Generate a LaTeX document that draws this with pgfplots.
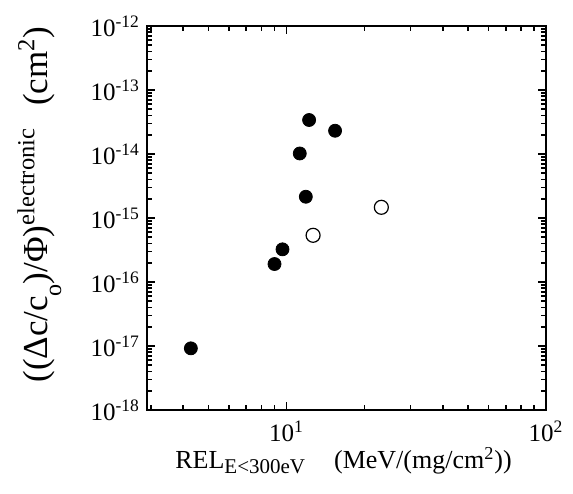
\documentclass[border=0pt]{standalone}
\usepackage{fontspec}
\setmainfont{Liberation Serif}
\usepackage{pgfplots}
\pgfplotsset{compat=1.18}
\begin{document}
\begin{tikzpicture}
\useasboundingbox (-73.5pt,-41.5pt) rectangle (213pt,205pt);
\begin{axis}[
  at={(0,0)}, anchor=south west,
  xmode=log, ymode=log,
  scale only axis, width=199.5pt, height=192pt,
  xmin=2.9, xmax=100, ymin=1e-18, ymax=1e-12,
  xtick={10,100},
  xticklabels={10\textsuperscript{1},10\textsuperscript{2}},
  ytick={1e-18,1e-17,1e-16,1e-15,1e-14,1e-13,1e-12},
  yticklabels={10\textsuperscript{-18},10\textsuperscript{-17},10\textsuperscript{-16},10\textsuperscript{-15},10\textsuperscript{-14},10\textsuperscript{-13},10\textsuperscript{-12}},
  minor xtick={3,4,5,6,7,8,9,20,30,40,50,60,70,80,90},
  minor ytick={2e-18,3e-18,4e-18,5e-18,6e-18,7e-18,8e-18,9e-18,
               2e-17,3e-17,4e-17,5e-17,6e-17,7e-17,8e-17,9e-17,
               2e-16,3e-16,4e-16,5e-16,6e-16,7e-16,8e-16,9e-16,
               2e-15,3e-15,4e-15,5e-15,6e-15,7e-15,8e-15,9e-15,
               2e-14,3e-14,4e-14,5e-14,6e-14,7e-14,8e-14,9e-14,
               2e-13,3e-13,4e-13,5e-13,6e-13,7e-13,8e-13,9e-13},
  tick align=inside,
  major tick length=4pt, minor tick length=2.5pt,
  tick style={black, line width=0.8pt},
  axis line style={line width=1pt},
  tick label style={font=\fontsize{12.5}{14}\selectfont},
  xticklabel style={yshift=-2pt},
  xlabel={REL\textsubscript{\fontsize{10.5}{12}\selectfont E<300eV}\hspace{14pt}(MeV/(mg/cm\textsuperscript{2}))},
  xlabel style={at={(axis description cs:0.07,-0.151)}, anchor=base west, font=\fontsize{13}{15}\selectfont, inner sep=0pt},
  ylabel={((Δc/c\raisebox{-0.4em}{\fontsize{12}{12}\selectfont o})/Φ)\textsuperscript{electronic}\hspace{11pt}(cm\textsuperscript{2})},
  ylabel style={at={(axis description cs:-0.2506,0.535)}, anchor=base, rotate=0, font=\fontsize{17.5}{19}\selectfont, inner sep=0pt},
]
\addplot[only marks, mark=*, mark size=3.25pt, black] coordinates {
  (4.28,9.2e-18) (8.99,1.91e-16) (9.65,3.24e-16) (11.87,2.15e-15)
  (11.25,1.02e-14) (12.22,3.4e-14) (15.39,2.31e-14)
};
\addplot[only marks, mark=o, mark size=3.5pt, black, mark options={line width=0.6pt, fill=white}] coordinates {
  (12.66,5.37e-16) (23.2,1.47e-15)
};
\end{axis}
\end{tikzpicture}
\end{document}
